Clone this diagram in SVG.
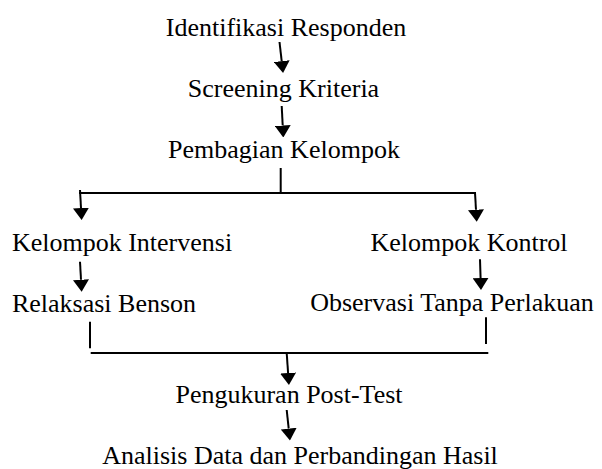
<svg xmlns="http://www.w3.org/2000/svg" width="602" height="469" viewBox="0 0 602 469">
<style>
.t{font-family:'Liberation Serif',serif;font-size:26px;fill:#000;text-anchor:middle}
.c{stroke:#000;stroke-width:2;fill:none}
.a{marker-end:url(#ah)}
</style>
<defs>
<marker id="ah" viewBox="0 0 12 16" refX="0" refY="8" markerWidth="12" markerHeight="16" markerUnits="userSpaceOnUse" orient="auto">
<path d="M0,0 L12,8 L0,16 z" fill="#000"/>
</marker>
</defs>
<rect width="602" height="469" fill="#fff"/>
<g id="n1"><text class="t" x="286" y="36">Identifikasi Responden</text></g>
<g id="n2"><text class="t" x="283.5" y="97">Screening Kriteria</text></g>
<g id="n3"><text class="t" x="284" y="158">Pembagian Kelompok</text></g>
<g id="n4"><text class="t" x="122" y="251">Kelompok Intervensi</text></g>
<g id="n5"><text class="t" x="469" y="251">Kelompok Kontrol</text></g>
<g id="n6"><text class="t" x="104" y="312">Relaksasi Benson</text></g>
<g id="n7"><text class="t" x="452" y="311">Observasi Tanpa Perlakuan</text></g>
<g id="n8"><text class="t" x="289" y="403">Pengukuran Post-Test</text></g>
<g id="n9"><text class="t" x="300" y="463.5">Analisis Data dan Perbandingan Hasil</text></g>
<g id="connectors">
<line class="c a" x1="279.5" y1="42" x2="281.7" y2="61.1"/>
<line class="c a" x1="281.7" y1="106" x2="282.7" y2="125.5"/>
<line class="c" x1="280.7" y1="168" x2="280.7" y2="193"/>
<line class="c" x1="79" y1="193" x2="476" y2="193"/>
<line class="c a" x1="80" y1="190" x2="81" y2="208"/>
<line class="c a" x1="475" y1="193" x2="476" y2="209.7"/>
<line class="c a" x1="80" y1="261.7" x2="81" y2="279.7"/>
<line class="c a" x1="480" y1="259.3" x2="480.6" y2="278"/>
<line class="c" x1="90" y1="321.7" x2="90" y2="348.3"/>
<line class="c" x1="486" y1="317.3" x2="486" y2="344"/>
<line class="c" x1="90.7" y1="353" x2="488.3" y2="353"/>
<line class="c a" x1="286.7" y1="353" x2="288.1" y2="373"/>
<line class="c a" x1="286.7" y1="410" x2="288.7" y2="428.6"/>
</g>
</svg>
